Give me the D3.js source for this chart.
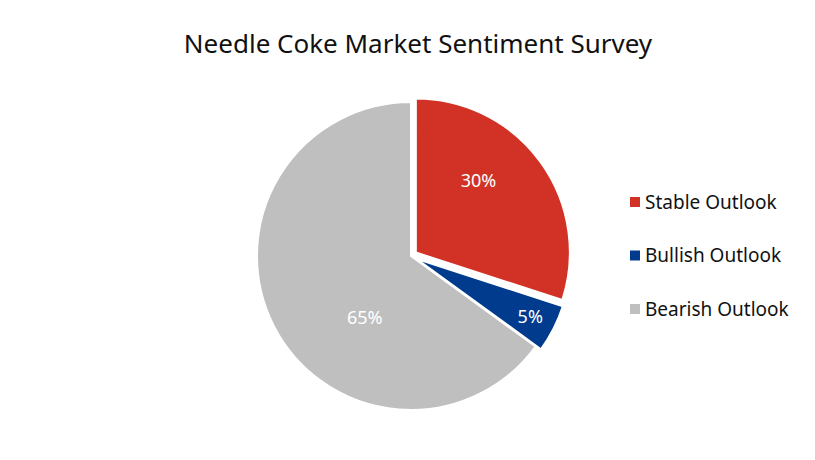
<!DOCTYPE html>
<html lang="en">
<head>
    <meta charset="utf-8" />
    <title>Needle Coke Market Sentiment Survey</title>
    <script src="https://d3js.org/d3.v7.min.js"></script>
    <style>
        body { margin: 0; background: #fff; }
        text { font-family: "Noto Sans", "Open Sans", sans-serif; }
    </style>
</head>
<body>
    <svg></svg>
    <script>
        let width = 815, height = 460;

        // data
        var categories = ["Stable Outlook", "Bullish Outlook", "Bearish Outlook"];
        var values = [30, 5, 65];
        var colors = ["#D13225", "#003B8E", "#BFBFBF"];

        let svg = d3.select("svg")
            .attr("width", width)
            .attr("height", height);

        svg.append("text")
            .attr("x", 418)
            .attr("y", 53)
            .attr("text-anchor", "middle")
            .style("font-size", "26px")
            .style("fill", "#111")
            .text("Needle Coke Market Sentiment Survey");

        var cx = 411, cy = 256, r = 154;
        var explode = [6, 6, 0];
        // label placement (angle in degrees, fraction of radius) - roughly excel "best fit"
        var labelPos = [[41, 0.62], [117, 0.83], [217, 0.5]];

        var pie = d3.pie().sort(null).value(d => d);
        var arcs = pie(values);
        var arc = d3.arc().innerRadius(0).outerRadius(r);

        var g = svg.append("g").attr("transform", "translate(" + cx + "," + cy + ")");

        var slice = g.selectAll("g.slice")
            .data(arcs)
            .enter()
            .append("g")
            .attr("class", "slice")
            .attr("transform", function (d, i) {
                var a = (d.startAngle + d.endAngle) / 2;
                return "translate(" + (Math.sin(a) * explode[i]) + "," + (-Math.cos(a) * explode[i]) + ")";
            });

        slice.append("path")
            .attr("d", arc)
            .attr("fill", (d, i) => colors[i])
            .style("stroke", "#fff")
            .attr("stroke-width", 2);

        slice.append("text")
            .attr("x", (d, i) => Math.sin(labelPos[i][0] * Math.PI / 180) * r * labelPos[i][1])
            .attr("y", (d, i) => -Math.cos(labelPos[i][0] * Math.PI / 180) * r * labelPos[i][1])
            .attr("text-anchor", "middle")
            .attr("dy", "0.35em")
            .style("font-size", "18px")
            .style("fill", "#fff")
            .text(d => d.data + "%");

        var legend = svg.append("g").attr("transform", "translate(630,202)");
        var item = legend.selectAll("g")
            .data(categories)
            .enter()
            .append("g")
            .attr("transform", (d, i) => "translate(0," + (i * 53.5) + ")");

        item.append("rect")
            .attr("x", 0)
            .attr("y", -5)
            .attr("width", 10)
            .attr("height", 10)
            .attr("fill", (d, i) => colors[i]);

        item.append("text")
            .attr("x", 15)
            .attr("dy", "0.35em")
            .style("font-size", "19px")
            .style("fill", "#111")
            .text(d => d);
    </script>
</body>
</html>
